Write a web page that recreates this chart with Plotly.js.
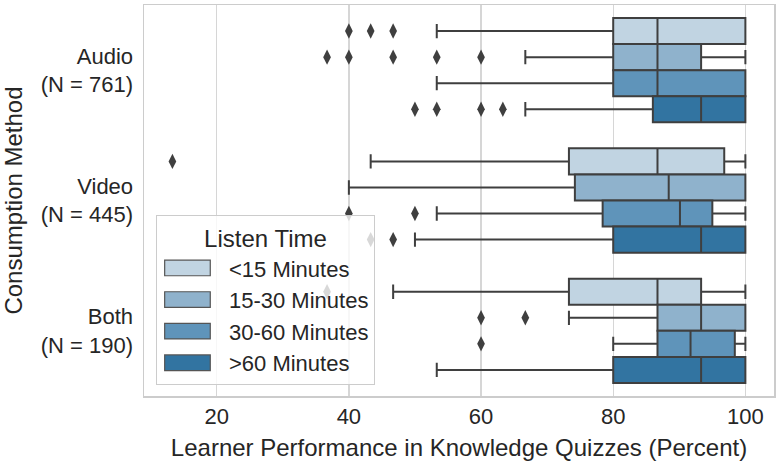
<!DOCTYPE html>
<html>
<head>
<meta charset="utf-8">
<script src="https://cdn.plot.ly/plotly-3.0.1.min.js"></script>
<style>html,body{margin:0;padding:0;background:#fff;}#chart{width:780px;height:461px;}</style>
</head>
<body>
<div id="chart"></div>
<script>
// Categories (y axis) and their sample sizes
const categories = ['Audio', 'Video', 'Both'];
const nCounts = [761, 445, 190];

// Hue levels (Listen Time)
const hues = ['<15 Minutes', '15-30 Minutes', '30-60 Minutes', '>60 Minutes'];
const hueColors = ['#c1d4e2', '#8fb2cc', '#5f94ba', '#3274a1'];

// Box statistics per hue, ordered as categories [Audio, Video, Both]
const lowerWhisker = [
  [53.3, 43.3, 46.7],
  [66.7, 40.0, 73.3],
  [53.3, 53.3, 80.0],
  [66.7, 50.0, 53.3]
];
const q1 = [
  [80.0, 73.3, 73.3],
  [80.0, 74.2, 86.7],
  [80.0, 78.4, 86.7],
  [86.0, 80.0, 80.0]
];
const medians = [
  [86.7, 86.7, 86.7],
  [86.7, 88.4, 93.3],
  [86.7, 90.1, 91.7],
  [93.3, 93.3, 93.3]
];
const q3 = [
  [100.0, 96.8, 93.3],
  [93.3, 100.0, 100.0],
  [100.0, 95.0, 98.4],
  [100.0, 100.0, 100.0]
];
const upperWhisker = [
  [100, 100, 100],
  [100, 100, 100],
  [100, 100, 100],
  [100, 100, 100]
];

// Outliers per hue, per category [Audio, Video, Both]
const outliers = [
  [[40.0, 43.3, 46.7], [13.3], [36.7]],
  [[36.7, 40.0, 46.7, 53.3, 60.0], [], [60.0, 66.7]],
  [[], [40.0, 50.0], [60.0]],
  [[50.0, 53.3, 60.0, 63.3], [43.3, 46.7], []]
];

const xTicks = [20, 40, 60, 80, 100];

const edge = '#3f3f3f';
const traces = [];
hues.forEach((h, i) => {
  traces.push({
    type: 'box',
    orientation: 'h',
    name: h,
    y: categories,
    q1: q1[i],
    median: medians[i],
    q3: q3[i],
    lowerfence: lowerWhisker[i],
    upperfence: upperWhisker[i],
    fillcolor: hueColors[i],
    line: {color: edge, width: 2},
    whiskerwidth: 0.55,
    boxpoints: false,
    hoverinfo: 'skip',
    legendgroup: h
  });
});
hues.forEach((h, i) => {
  const xs = [], ys = [];
  outliers[i].forEach((vals, c) => vals.forEach(v => { xs.push(v); ys.push(categories[c]); }));
  traces.push({
    type: 'scatter',
    mode: 'markers',
    orientation: 'h',
    x: xs,
    y: ys,
    name: h,
    showlegend: false,
    legendgroup: h,
    marker: {symbol: 'diamond-tall', size: 11, color: edge, line: {width: 0}},
    hoverinfo: 'skip'
  });
});

const layout = {
  width: 780,
  height: 461,
  margin: {l: 144, r: 6, t: 5, b: 65},
  paper_bgcolor: '#ffffff',
  plot_bgcolor: '#ffffff',
  font: {family: '"Liberation Sans", Arial, sans-serif', color: '#262626', size: 22},
  boxmode: 'group',
  boxgap: 0.2,
  boxgroupgap: 0,
  scattermode: 'group',
  scattergap: 0.2,
  showlegend: true,
  xaxis: {
    range: [9.0, 104.33],
    tickvals: xTicks,
    ticktext: xTicks.map(String),
    showgrid: true,
    gridcolor: '#d6d6d6',
    gridwidth: 1.3,
    zeroline: false,
    showline: true,
    mirror: true,
    linecolor: '#cccccc',
    linewidth: 1.5,
    ticks: '',
    tickfont: {size: 22, color: '#262626'},
    title: {text: 'Learner Performance in Knowledge Quizzes (Percent)', font: {size: 24, color: '#262626'}, standoff: 12}
  },
  yaxis: {
    type: 'category',
    categoryorder: 'array',
    categoryarray: categories,
    autorange: 'reversed',
    tickvals: categories,
    ticktext: categories.map((c, i) => c + '<br>(N = ' + nCounts[i] + ')'),
    showgrid: false,
    zeroline: false,
    showline: true,
    mirror: true,
    linecolor: '#cccccc',
    linewidth: 1.5,
    ticks: '',
    ticklabelstandoff: 5,
    tickfont: {size: 22, color: '#262626'},
    title: {text: 'Consumption Method', font: {size: 24, color: '#262626'}, standoff: 14}
  },
  legend: {
    x: 0.019,
    y: 0.463,
    xanchor: 'left',
    yanchor: 'top',
    bgcolor: 'rgba(255,255,255,0.8)',
    bordercolor: '#cccccc',
    borderwidth: 1,
    font: {size: 22, color: '#262626'},
    title: {text: 'Listen Time', side: 'top center', font: {size: 24, color: '#262626'}},
    traceorder: 'normal',
    itemwidth: 62
  }
};

Plotly.newPlot('chart', traces, layout, {displayModeBar: false, staticPlot: true}).then(gd => {
  // widen the legend swatches to the flat patch style of the reference
  const legendEl = gd.querySelector('.legend');
  if (!legendEl) return;
  const bg = legendEl.querySelector('.bg');
  const legLeft = bg ? bg.getBoundingClientRect().left : 0;
  legendEl.querySelectorAll('.traces').forEach(tr => {
    const p = tr.querySelector('.legendpoints path');
    if (!p) return;
    const r = p.getBoundingClientRect();
    const cx = (r.left + r.right) / 2;
    const dx = (legLeft + 31) - cx;
    const orig = p.getAttribute('transform') || '';
    p.setAttribute('transform', orig + ' translate(' + dx + ',0) scale(3.8,1.3)');
    p.setAttribute('vector-effect', 'non-scaling-stroke');
    p.style.strokeWidth = '1.2px';
    p.style.stroke = '#555555';
  });
});
</script>
</body>
</html>
